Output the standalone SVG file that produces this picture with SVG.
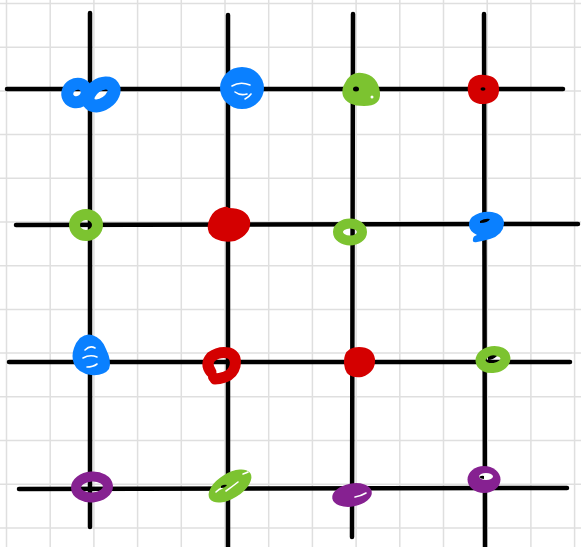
<svg xmlns="http://www.w3.org/2000/svg" width="581" height="547" viewBox="0 0 581 547">
<style>
.g{stroke:#dfdfdf;stroke-width:1.5}
.ln{stroke:#000;stroke-width:4.5;stroke-linecap:round;fill:none}
.b{fill:#0a80ff}.bs{stroke:#0a80ff;fill:none}
.gr{fill:#7cc330}.grs{stroke:#7cc330;fill:none}
.r{fill:#d40000}.rs{stroke:#d40000;fill:none}
.p{fill:#862191}.ps{stroke:#862191;fill:none}
.w{stroke:#fff;fill:none;stroke-width:1.6;stroke-linecap:round}
</style>
<rect width="581" height="547" fill="#fff"/>
<g id="grid">
<path class="g" d="M6.5 0V547M50.2 0V547M93.9 0V547M137.6 0V547M181.3 0V547M225 0V547M268.7 0V547M312.4 0V547M356.1 0V547M399.8 0V547M443.5 0V547M487.2 0V547M530.9 0V547M574.6 0V547"/>
<path class="g" d="M0 3.5H581M0 47.2H581M0 90.9H581M0 134.6H581M0 178.3H581M0 222H581M0 265.7H581M0 309.4H581M0 353.1H581M0 396.8H581M0 440.5H581M0 484.2H581M0 527.9H581"/>
</g>
<g id="connectors">
<path class="ln" d="M90 13L90 527"/>
<path class="ln" d="M228 15L228 549"/>
<path class="ln" d="M353 14L352 537"/>
<path class="ln" d="M484 14L485 549"/>
<path class="ln" d="M7 89L563 89"/>
<path class="ln" d="M16 225L578 224"/>
<path class="ln" d="M9 362L570 362"/>
<path class="ln" d="M19 489L567 488"/>
</g>
<g id="n-r1c1">
<ellipse class="bs" cx="77" cy="93" rx="10" ry="9" stroke-width="12" transform="rotate(-30 77 93)"/>
<ellipse class="bs" cx="101" cy="94.5" rx="14.5" ry="9.5" transform="rotate(-35 101 94.5)" stroke-width="13"/>
</g>
<g id="n-r1c2">
<ellipse class="b" cx="242" cy="88" rx="22" ry="21"/>
<path class="w" d="M232 86q8-5 18-1M235 92q5 4 12 2M245 99q4-2 6-5"/>
</g>
<g id="n-r1c3">
<path class="gr" d="M345 83q6-12 17-10q16 2 18 20q1 13-16 13q-17 0-21-10q-2-7 2-13z"/>
<ellipse cx="356" cy="89" rx="3" ry="2.5" fill="#000"/>
<circle cx="372" cy="97" r="1.5" fill="#fff"/>
</g>
<g id="n-r1c4">
<path class="r" d="M470 80q5-6 15-5q13 1 14 13q1 14-14 16q-15 1-17-12q-1-7 2-12z"/>
<ellipse cx="483" cy="89" rx="2.5" ry="1.8" fill="#000"/>
</g>
<g id="n-r2c1">
<ellipse class="grs" cx="86" cy="225" rx="11.5" ry="10.5" stroke-width="11"/>
</g>
<g id="n-r2c2">
<path class="r" d="M210 218q4-9 14-11q3-1 5 1q17 0 21 12q2 14-15 21q-19 3-26-8q-3-7 1-15z"/>
</g>
<g id="n-r2c3">
<ellipse class="grs" cx="350" cy="232" rx="12" ry="8.5" stroke-width="10"/>
</g>
<g id="n-r2c4">
<path class="b" d="M472 217q8-6 20-5q12 2 12 12q-1 11-14 15q-7 2-13 3q-5 1-4-3q0-3 4-4q-8-4-8-10q0-5 3-8z"/>
<path d="M480 221q5-3 10-2q-2 4-10 4z" fill="#000"/>
</g>
<g id="n-r3c1">
<path class="b" d="M80 338q6-5 12-3q10 3 14 14q6 12 3 20q-5 7-18 6q-13-2-17-11q-3-8 0-16q2-6 6-10z"/>
<path class="w" d="M85 350q5-5 10-2M83 358q7-4 14-1M87 367q6 0 10-3"/>
</g>
<g id="n-r3c2">
<path class="rs" d="M211 372q-6-8 0-15q8-6 18-4q8 3 6 13q-2 8-10 11q-6 2-10 2" stroke-width="11" stroke-linecap="round"/>
<circle cx="213" cy="377" r="5" class="r"/>
</g>
<g id="n-r3c3">
<path class="r" d="M345 355q3-8 14-8q14 0 16 12q1 13-13 18q-14 2-17-8q-2-8 0-14z"/>
</g>
<g id="n-r3c4">
<ellipse class="grs" cx="493" cy="359.5" rx="12.5" ry="8.5" stroke-width="10" transform="rotate(-8 493 359.5)"/>
<path d="M488 357q4-3 9-1q-4 4-9 4z" fill="#000"/>
</g>
<g id="n-r4c1">
<ellipse class="ps" cx="92" cy="487" rx="16" ry="10.5" stroke-width="10" transform="rotate(-4 92 487)"/>
</g>
<g id="n-r4c2">
<ellipse class="gr" cx="230" cy="486" rx="24" ry="12.5" transform="rotate(-32 230 486)"/>
<path class="w" d="M216 492q3-3 6-4M226 491q7-5 12-9M243 474q3-1 5-2"/>
<path d="M221 486q3-2 6-1q-2 3-6 3z" fill="#000"/>
</g>
<g id="n-r4c3">
<ellipse class="p" cx="352" cy="495" rx="20" ry="11.5" transform="rotate(-10 352 495)"/>
<path class="w" d="M355 497q6-1 11-4" stroke-width="1.2"/>
</g>
<g id="n-r4c4">
<ellipse class="p" cx="484" cy="479.5" rx="16.5" ry="13.5"/>
<ellipse cx="486" cy="476.5" rx="7" ry="3.5" fill="#fff"/>
<path d="M479 477q3-2 5-1v3q-3 0-5-2z" fill="#000"/>
</g>
</svg>
